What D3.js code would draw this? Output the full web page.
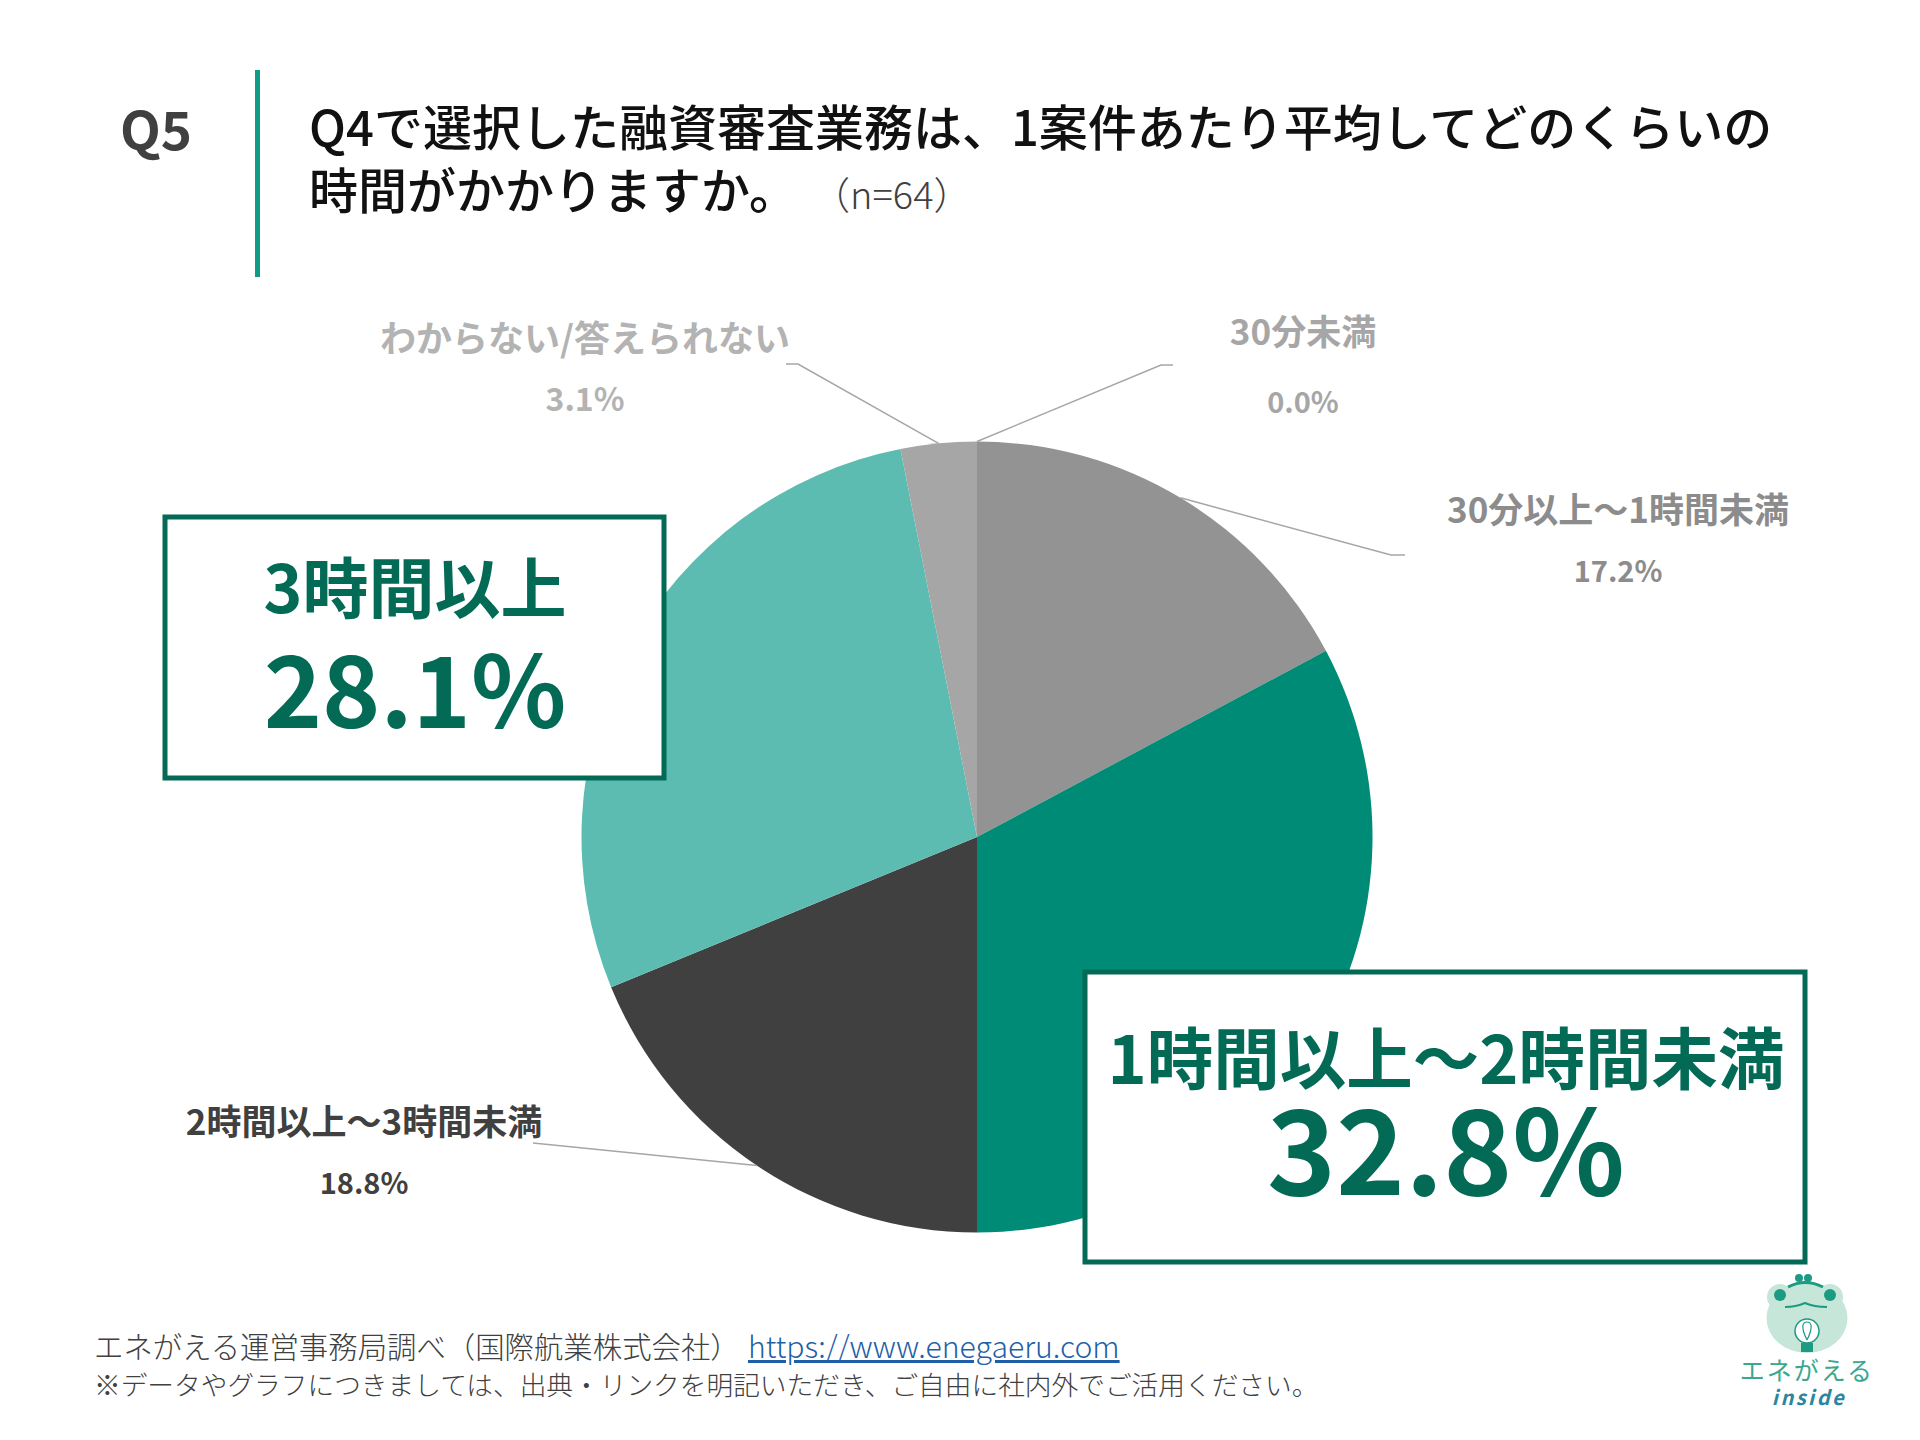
<!DOCTYPE html>
<html>
<head>
<meta charset="utf-8">
<script src="https://cdn.jsdelivr.net/npm/d3@7"></script>
<style>
  html, body { margin: 0; padding: 0; background: #fff; }
  text { font-family: "Noto Sans CJK JP", "Noto Sans", sans-serif; }
</style>
</head>
<body>
<div id="vis"></div>
<script>
// values
var categories = ["30分未満", "30分以上～1時間未満", "1時間以上～2時間未満", "2時間以上～3時間未満", "3時間以上", "わからない/答えられない"];
var values = [0.0, 17.2, 32.8, 18.8, 28.1, 3.1];
var colors = ["#7f7f7f", "#939393", "#008b76", "#404040", "#5dbcb1", "#a6a6a6"];

var titleLines = ["Q4で選択した融資審査業務は、1案件あたり平均してどのくらいの", "時間がかかりますか。"];
var sampleNote = "（n=64）";
var sourceNote = "エネがえる運営事務局調べ（国際航業株式会社）";
var sourceUrl = "https://www.enegaeru.com";
var usageNote = "※データやグラフにつきましては、出典・リンクを明記いただき、ご自由に社内外でご活用ください。";

function draw() {
  var width = 1920, height = 1440;
  var cx = 977, cy = 837, radius = 395.5;
  var darkGreen = "#036a56";

  var svg = d3.select("#vis").append("svg")
    .attr("width", width)
    .attr("height", height)
    .style("display", "block");

  // header
  svg.append("text").attr("x", 120).attr("y", 150)
    .attr("font-size", 53).attr("font-weight", 700).attr("fill", "#404040")
    .text("Q5");
  svg.append("rect").attr("x", 255).attr("y", 70).attr("width", 5).attr("height", 207)
    .attr("fill", "#0e9c86");
  svg.selectAll(".title").data(titleLines).enter().append("text")
    .attr("class", "title")
    .attr("x", 309)
    .attr("y", function(d, i) { return 146 + i * 63; })
    .attr("font-size", 49)
    .attr("font-weight", 500)
    .attr("fill", "#111")
    .text(function(d) { return d; });
  svg.append("text").attr("x", 812).attr("y", 209)
    .attr("font-size", 38).attr("font-weight", 300).attr("fill", "#404040")
    .text(sampleNote);

  // pie
  var total = d3.sum(values);
  var pie = d3.pie().sort(null).value(function(d) { return d; })(values.map(function(v) { return v / total; }));
  var arc = d3.arc().innerRadius(0).outerRadius(radius);
  var g = svg.append("g").attr("transform", "translate(" + cx + "," + cy + ")");
  g.selectAll("path").data(pie).enter().append("path")
    .attr("d", arc)
    .attr("fill", function(d, i) { return colors[i]; });

  // leader lines start on the rim at each slice's mid angle
  function rim(i) {
    var a = (pie[i].startAngle + pie[i].endAngle) / 2;
    return [cx + radius * Math.sin(a), cy - radius * Math.cos(a)];
  }
  var leaders = [
    { i: 0, elbow: [1161, 365], end: [1173, 365] },
    { i: 1, elbow: [1391, 555], end: [1405, 555] },
    { i: 3, elbow: [533, 1143], end: [533, 1143] },
    { i: 5, elbow: [798, 364], end: [786, 364] }
  ];
  leaders.forEach(function(l) {
    svg.append("path")
      .attr("d", d3.line()([rim(l.i), l.elbow, l.end]))
      .attr("fill", "none")
      .attr("stroke", "#a6a6a6")
      .attr("stroke-width", 1.5);
  });

  // small labels
  var labels = [
    { i: 5, x: 585, y: 352, vy: 411, color: "#b3b3b3", size: 36, vs: 32 },
    { i: 0, x: 1303, y: 345, vy: 413, color: "#a6a6a6", size: 35, vs: 29 },
    { i: 1, x: 1618, y: 523, vy: 582, color: "#8c8c8c", size: 35, vs: 29 },
    { i: 3, x: 364, y: 1135, vy: 1194, color: "#404040", size: 35, vs: 29 }
  ];
  labels.forEach(function(l) {
    svg.append("text").attr("x", l.x).attr("y", l.y)
      .attr("text-anchor", "middle").attr("font-size", l.size).attr("font-weight", 700).attr("fill", l.color)
      .text(categories[l.i]);
    svg.append("text").attr("x", l.x).attr("y", l.vy)
      .attr("text-anchor", "middle").attr("font-size", l.vs).attr("font-weight", 700).attr("fill", l.color)
      .text(values[l.i].toFixed(1) + "%");
  });

  // call-out boxes
  var boxes = [
    { i: 4, x: 165, y: 517, w: 499, h: 261, cx: 415, ty: 613, vy: 728, ts: 66, vs: 99 },
    { i: 2, x: 1085, y: 972, w: 720, h: 290, cx: 1446, ty: 1084, vy: 1195, ts: 66.5, vs: 117 }
  ];
  boxes.forEach(function(b) {
    svg.append("rect").attr("x", b.x).attr("y", b.y).attr("width", b.w).attr("height", b.h)
      .attr("fill", "#fff").attr("stroke", darkGreen).attr("stroke-width", 5);
    svg.append("text").attr("x", b.cx).attr("y", b.ty)
      .attr("text-anchor", "middle").attr("font-size", b.ts).attr("font-weight", 700).attr("fill", darkGreen)
      .text(categories[b.i]);
    svg.append("text").attr("x", b.cx).attr("y", b.vy)
      .attr("text-anchor", "middle").attr("font-size", b.vs).attr("font-weight", 700).attr("fill", darkGreen)
      .text(values[b.i].toFixed(1) + "%");
  });

  // footer
  svg.append("text").attr("x", 94).attr("y", 1358)
    .attr("font-size", 29.4).attr("font-weight", 300).attr("fill", "#404040").text(sourceNote);
  svg.append("text").attr("x", 748).attr("y", 1358)
    .attr("font-size", 30.2).attr("font-weight", 300).attr("fill", "#1f5fa8").attr("text-decoration", "underline").text(sourceUrl);
  svg.append("text").attr("x", 94).attr("y", 1395)
    .attr("font-size", 26.7).attr("font-weight", 300).attr("fill", "#404040").text(usageNote);

  // logo
  var logo = svg.append("g");
  var frog = "#1d9a82";
  logo.append("ellipse").attr("cx", 1807).attr("cy", 1318).attr("rx", 40.5).attr("ry", 35).attr("fill", "#c5e6d8");
  logo.append("ellipse").attr("cx", 1780).attr("cy", 1297).attr("rx", 13).attr("ry", 13).attr("fill", "#c5e6d8");
  logo.append("ellipse").attr("cx", 1830).attr("cy", 1297).attr("rx", 13).attr("ry", 13).attr("fill", "#c5e6d8");
  logo.append("path").attr("d", "M1788,1287 Q1805,1278 1823,1287").attr("fill", "none").attr("stroke", frog).attr("stroke-width", 3);
  logo.append("circle").attr("cx", 1799).attr("cy", 1278).attr("r", 4).attr("fill", frog);
  logo.append("circle").attr("cx", 1808).attr("cy", 1278).attr("r", 4).attr("fill", frog);
  logo.append("circle").attr("cx", 1780).attr("cy", 1295).attr("r", 6).attr("fill", frog);
  logo.append("circle").attr("cx", 1830).attr("cy", 1295).attr("r", 6).attr("fill", frog);
  logo.append("path").attr("d", "M1785,1307 Q1796,1307 1805,1303 Q1814,1307 1827,1307").attr("fill", "none").attr("stroke", frog).attr("stroke-width", 2);
  logo.append("circle").attr("cx", 1807).attr("cy", 1331).attr("r", 12).attr("fill", "#fff").attr("stroke", frog).attr("stroke-width", 1.5);
  logo.append("path").attr("d", "M1807,1340 C1800,1326 1803,1322 1807,1322 C1811,1322 1814,1326 1807,1340").attr("fill", "none").attr("stroke", frog).attr("stroke-width", 1.2);
  logo.append("rect").attr("x", 1801).attr("y", 1343).attr("width", 12).attr("height", 9).attr("fill", frog);
  svg.append("text").attr("x", 1807).attr("y", 1380).attr("text-anchor", "middle")
    .attr("font-size", 25).attr("letter-spacing", 2).attr("fill", "#3aa791").text("エネがえる");
  svg.append("text").attr("x", 1809).attr("y", 1405).attr("text-anchor", "middle")
    .attr("font-size", 20).attr("font-weight", 700).attr("font-style", "italic").attr("letter-spacing", 2.5).attr("fill", "#2b85a0").text("inside");
}

draw();
</script>
</body>
</html>
